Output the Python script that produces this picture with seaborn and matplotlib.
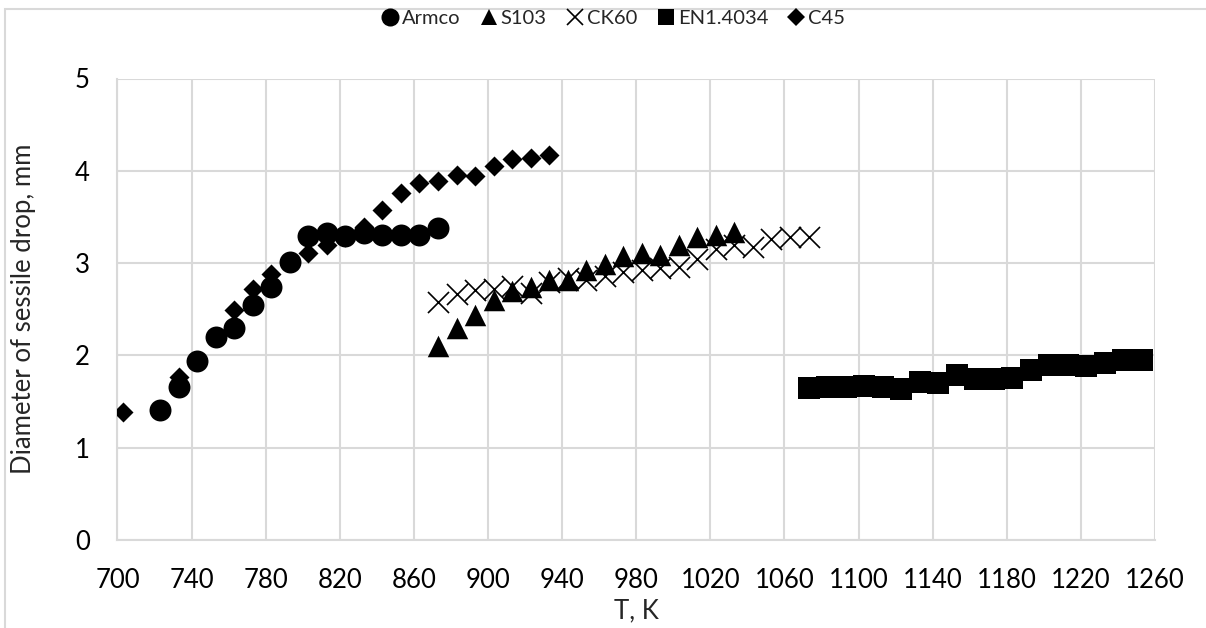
import matplotlib
matplotlib.use("Agg")
import matplotlib.pyplot as plt
from matplotlib.lines import Line2D
from matplotlib.patches import Rectangle
import seaborn as sns
import pandas as pd

# Sessile drop diameter vs temperature for five steels
armco_t = [723, 733, 743, 753, 763, 773, 783, 793, 803, 813, 823, 833, 843, 853, 863, 873]
armco_d = [1.41, 1.66, 1.94, 2.20, 2.30, 2.55, 2.74, 3.01, 3.29, 3.33, 3.29, 3.33, 3.30, 3.31, 3.31, 3.38]

s103_t = [873, 883, 893, 903, 913, 923, 933, 943, 953, 963, 973, 983, 993, 1003, 1013, 1023, 1033]
s103_d = [2.10, 2.30, 2.44, 2.60, 2.70, 2.74, 2.82, 2.82, 2.93, 2.99, 3.08, 3.11, 3.09, 3.20, 3.28, 3.31, 3.34]

ck60_t = [873, 883, 893, 903, 913, 923, 933, 943, 953, 963, 973, 983, 993, 1003, 1013, 1023, 1033, 1043, 1053, 1063, 1073]
ck60_d = [2.58, 2.67, 2.71, 2.72, 2.75, 2.68, 2.80, 2.84, 2.82, 2.86, 2.90, 2.93, 2.95, 2.96, 3.05, 3.15, 3.20, 3.18, 3.26, 3.28, 3.28]

en_t = [1073, 1083, 1093, 1103, 1113, 1123, 1133, 1143, 1153, 1163, 1173, 1183, 1193, 1203, 1213, 1223, 1233, 1243, 1253]
en_d = [1.65, 1.66, 1.66, 1.67, 1.66, 1.64, 1.71, 1.70, 1.79, 1.74, 1.74, 1.76, 1.84, 1.90, 1.90, 1.89, 1.92, 1.95, 1.95]

c45_t = [703, 733, 763, 773, 783, 803, 813, 823, 833, 843, 853, 863, 873, 883, 893, 903, 913, 923, 933]
c45_d = [1.39, 1.77, 2.49, 2.72, 2.88, 3.11, 3.20, 3.28, 3.39, 3.58, 3.76, 3.87, 3.89, 3.95, 3.94, 4.05, 4.13, 4.14, 4.17]

x_ticks = list(range(700, 1261, 40))
y_ticks = [0, 1, 2, 3, 4, 5]

sns.set_theme(style="white")
plt.rcParams["font.family"] = ["Lato", "DejaVu Sans"]

fig = plt.figure(figsize=(12.06, 6.28), dpi=100)
ax = fig.add_axes([0.0974, 0.140, 0.8603, 0.735])

grid_c = "#d9d9d9"
series = [
    ("Armco", armco_t, armco_d, "o", 250, 13),
    ("S103", s103_t, s103_d, "^", 240, 12),
    ("CK60", ck60_t, ck60_d, "x", 230, 12),
    ("EN1.4034", en_t, en_d, "s", 250, 12),
    ("C45", c45_t, c45_d, "D", 104, 9),
]

for name, t, d, mk, s, _ in series:
    df = pd.DataFrame({"T": t, "D": d})
    if mk == "x":
        sns.scatterplot(data=df, x="T", y="D", marker=mk, s=s, color="black",
                        linewidth=1.2, ax=ax, zorder=3)
    else:
        sns.scatterplot(data=df, x="T", y="D", marker=mk, s=s, color="black",
                        edgecolor="black", linewidth=0, ax=ax, zorder=3)

ax.set_xlim(700, 1260)
ax.set_ylim(0, 5)
ax.set_xticks(x_ticks)
ax.set_yticks(y_ticks)
ax.grid(True, color=grid_c, linewidth=1.5)
ax.set_axisbelow(True)
for side in ["top", "right"]:
    ax.spines[side].set_visible(False)
for side in ["left", "bottom"]:
    ax.spines[side].set_color(grid_c)
    ax.spines[side].set_linewidth(1.5)
ax.tick_params(axis="both", length=0, labelsize=18.5, colors="black")
ax.tick_params(axis="x", pad=20)
ax.tick_params(axis="y", pad=20)
ax.set_xlabel("T, K", fontsize=18.5, labelpad=4)
ax.set_ylabel("Diameter of sessile drop, mm", fontsize=18.5, labelpad=28)

handles = []
for name, t, d, mk, s, ms in series:
    if mk == "x":
        h = Line2D([], [], linestyle="none", marker=mk, markersize=ms,
                   color="black", markeredgewidth=1.2, label=name)
    else:
        h = Line2D([], [], linestyle="none", marker=mk, markersize=ms,
                   color="black", markeredgewidth=0, label=name)
    handles.append(h)
fig.legend(handles=handles, loc="center", bbox_to_anchor=(0.508, 0.970), ncol=5,
           frameon=False, fontsize=14.5, handletextpad=0.1, columnspacing=0.9,
           handlelength=1.0)

# outer frame
fig.patches.append(Rectangle((5 / 1206, -0.1), 1.2, 1.1 - 9 / 628,
                             transform=fig.transFigure, fill=False,
                             edgecolor=grid_c, linewidth=1.5))

fig.savefig("out.png", dpi=100, facecolor="white")
